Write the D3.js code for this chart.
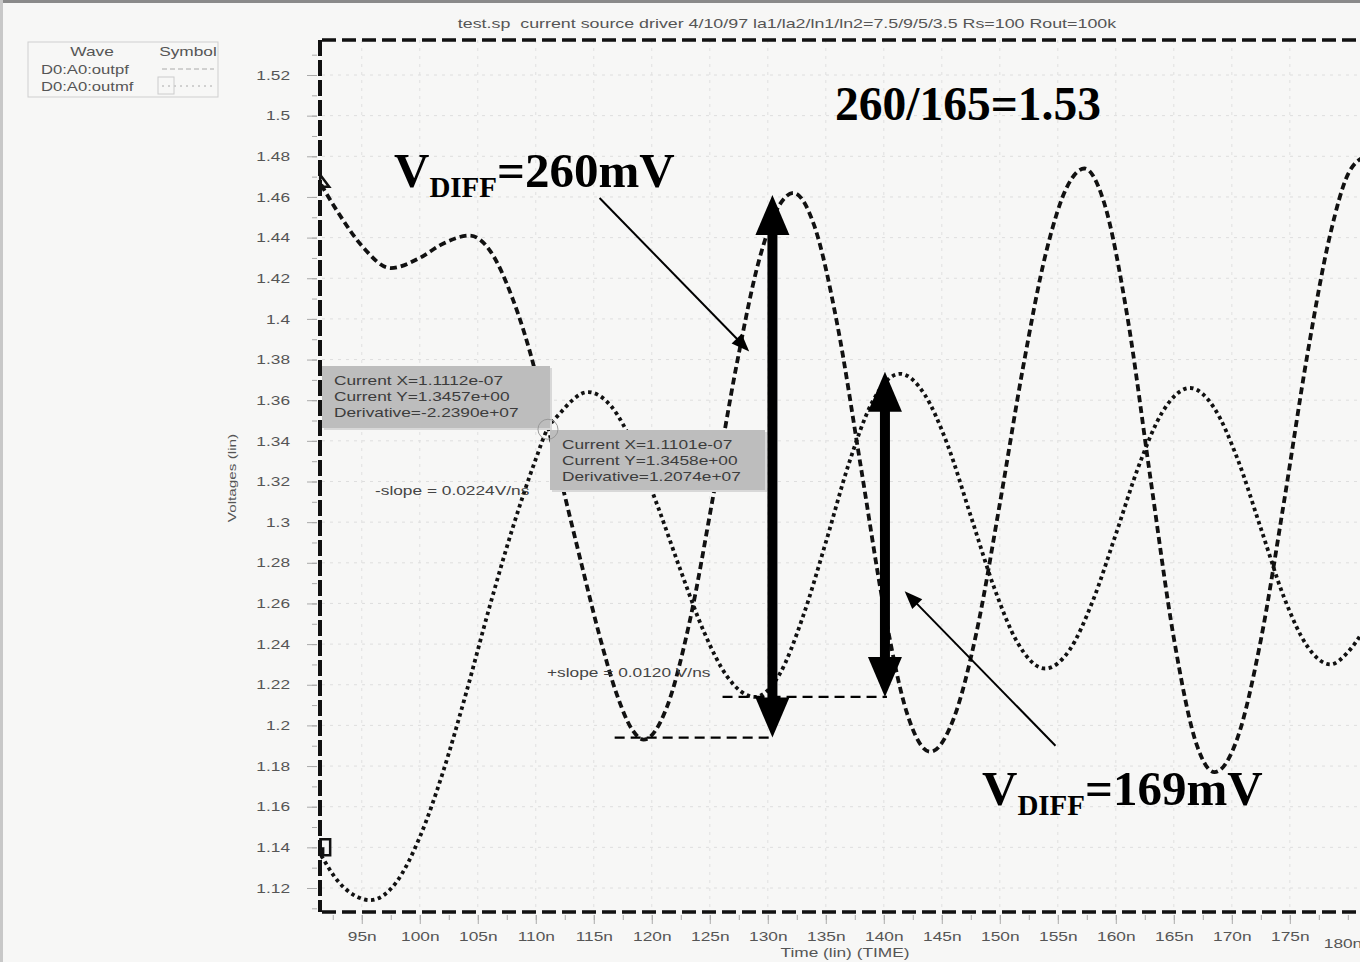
<!DOCTYPE html>
<meta charset="utf-8">
<script src="https://d3js.org/d3.v7.min.js"></script>
<style>
  body { margin: 0; background: #f4f4f3; }
  .sans { font-family: "Liberation Sans", Arial, sans-serif; }
  .serif { font-family: "Liberation Serif", "Times New Roman", serif; font-weight: bold; }
</style>
<div id="chart"></div>
<script>
// ---- data (time in ns, volts) ----
const outpfT = [91.5, 93, 95, 97.5, 100, 102, 104.3, 106, 108, 110, 111.1, 112.5, 114, 115.5, 117, 118.3, 119.3,
  121.3, 123.3, 125.3, 127.3, 129.3, 131, 132.2, 134, 136, 138, 140, 142, 144, 146, 148, 150, 152, 154, 155.8,
  157.3, 159, 161, 163, 165, 167, 168.5, 170.5, 172.5, 174.5, 176.5, 178.5, 180, 181.5];
const outpfV = [1.466, 1.452, 1.436, 1.425, 1.430, 1.437, 1.441, 1.434, 1.410, 1.373, 1.3457, 1.313, 1.278, 1.244,
  1.215, 1.198, 1.193, 1.209, 1.252, 1.313, 1.377, 1.430, 1.456, 1.462, 1.446, 1.397, 1.328, 1.258, 1.206, 1.187,
  1.203, 1.246, 1.309, 1.376, 1.433, 1.465, 1.474, 1.457, 1.401, 1.321, 1.243, 1.190, 1.177, 1.194, 1.242, 1.310,
  1.382, 1.442, 1.471, 1.480];

const outmfT = [91.5, 93, 94.5, 95.7, 98, 100, 102, 104, 106, 108, 110, 111, 112, 114.5, 116.5, 118.5, 120.5, 122.5,
  124.5, 126.5, 128.9, 131, 133, 135, 137, 139, 141.4, 143.5, 145.5, 147.5, 149.5, 151.5, 153.9, 156, 158, 160, 162,
  164, 166.4, 168.5, 170.5, 172.5, 174.5, 176.5, 178.5, 180, 181.5];
const outmfV = [1.136, 1.123, 1.116, 1.114, 1.123, 1.145, 1.177, 1.216, 1.258, 1.297, 1.331, 1.3458, 1.353, 1.364,
  1.357, 1.337, 1.308, 1.276, 1.246, 1.224, 1.214, 1.225, 1.253, 1.290, 1.329, 1.359, 1.373, 1.363, 1.338, 1.303,
  1.268, 1.241, 1.228, 1.237, 1.261, 1.294, 1.328, 1.354, 1.366, 1.356, 1.331, 1.297, 1.263, 1.239, 1.230, 1.236, 1.248];

const yTicks = [1.12, 1.14, 1.16, 1.18, 1.2, 1.22, 1.24, 1.26, 1.28, 1.3, 1.32, 1.34, 1.36, 1.38, 1.4, 1.42, 1.44, 1.46, 1.48, 1.5, 1.52];
const xTicks = [95, 100, 105, 110, 115, 120, 125, 130, 135, 140, 145, 150, 155, 160, 165, 170, 175];

const title = "test.sp  current source driver 4/10/97 la1/la2/ln1/ln2=7.5/9/5/3.5 Rs=100 Rout=100k";
const waves = ["D0:A0:outpf", "D0:A0:outmf"];

// cursor readouts
const cursorA = ["Current X=1.1112e-07", "Current Y=1.3457e+00", "Derivative=-2.2390e+07"];
const cursorB = ["Current X=1.1101e-07", "Current Y=1.3458e+00", "Derivative=1.2074e+07"];

// swing markers: time, low, high (V)
const swings = [
  { t: 130.4, lo: 1.194, hi: 1.461, ref0: 116.8 },
  { t: 140.1, lo: 1.214, hi: 1.374, ref0: 126.1 }
];

const W = 1360, H = 962;
const svg = d3.select("#chart").append("svg").attr("width", W).attr("height", H).attr("class", "sans");

svg.append("rect").attr("width", W).attr("height", H).attr("fill", "#f7f7f6");
svg.append("rect").attr("width", W).attr("height", 3).attr("fill", "#8a8a8a");
svg.append("rect").attr("width", 3).attr("height", H).attr("fill", "#c8c8c8");

const x = d3.scaleLinear().domain([91.4, 181.05]).range([320, 1360]);
const y = d3.scaleLinear().domain([1.12, 1.52]).range([888, 75]);

const plotTop = 40, plotBottom = 912, plotLeft = 322;

// the scan is stretched sideways, so the small scope text is widened too
const STRETCH = 1.33;
function widen(sel) {
  sel.each(function () {
    const n = this.getComputedTextLength();
    d3.select(this).attr("textLength", n * STRETCH).attr("lengthAdjust", "spacingAndGlyphs");
  });
  return sel;
}
function label(px, py, str, size, anchor) {
  const t = svg.append("text").attr("x", px).attr("y", py).attr("font-size", size)
    .attr("fill", "#555").attr("text-anchor", anchor || "start").text(str);
  return widen(t);
}

// grid
svg.append("g").selectAll("line").data(yTicks).join("line")
  .attr("x1", plotLeft).attr("x2", W)
  .attr("y1", d => y(d)).attr("y2", d => y(d))
  .attr("stroke", "#dedede").attr("stroke-width", 1).attr("stroke-dasharray", "3,5");
svg.append("g").selectAll("line").data(xTicks).join("line")
  .attr("x1", d => x(d)).attr("x2", d => x(d))
  .attr("y1", plotTop).attr("y2", plotBottom)
  .attr("stroke", "#e0e0e0").attr("stroke-width", 1).attr("stroke-dasharray", "3,5");

// title
label(787, 28, title, 13.5, "middle").style("white-space", "pre");

// y axis
svg.append("g").attr("transform", "translate(317,0)")
  .call(d3.axisLeft(y).tickValues(yTicks).tickSize(10).tickPadding(17).tickFormat(d3.format("")));
svg.append("g").attr("transform", "translate(317,0)")
  .call(d3.axisLeft(y).tickValues(d3.range(1.11, 1.535, 0.01)).tickSize(5).tickFormat(""));
// x axis
svg.append("g").attr("transform", `translate(0,${plotBottom + 3})`)
  .call(d3.axisBottom(x).tickValues(xTicks).tickSize(9).tickPadding(8).tickFormat(d => d + "n"));
svg.append("g").attr("transform", `translate(0,${plotBottom + 3})`)
  .call(d3.axisBottom(x).tickValues(d3.range(92.5, 181, 2.5)).tickSize(5).tickFormat(""));
svg.selectAll(".domain").remove();
svg.selectAll(".tick line").attr("stroke", "#aaa");
widen(svg.selectAll(".tick text").attr("fill", "#555").attr("font-size", 13)
  .style("font-family", "Liberation Sans, Arial, sans-serif"));
label(1343, 948, "180n", 13, "middle");

label(845, 957, "Time (lin) (TIME)", 13, "middle");
label(0, 0, "Voltages (lin)", 11.5, "middle").attr("transform", "translate(236,478) rotate(-90)");

// frame
const frame = svg.append("g").attr("fill", "none").attr("stroke", "#111").attr("stroke-width", 3.5)
  .attr("stroke-dasharray", "14,6");
frame.append("line").attr("x1", plotLeft).attr("x2", W).attr("y1", plotTop).attr("y2", plotTop);
frame.append("line").attr("x1", plotLeft).attr("x2", W).attr("y1", plotBottom).attr("y2", plotBottom);
frame.append("line").attr("x1", plotLeft - 2).attr("x2", plotLeft - 2).attr("y1", plotTop).attr("y2", plotBottom)
  .attr("stroke-width", 4).attr("stroke-dasharray", "16,4");

// legend
svg.append("rect").attr("x", 28).attr("y", 42).attr("width", 190).attr("height", 55)
  .attr("fill", "none").attr("stroke", "#cfcfcf");
label(92, 56, "Wave", 13, "middle");
label(188, 56, "Symbol", 13, "middle");
waves.forEach((w, i) => {
  label(41, 74 + i * 17, w, 12.5);
  svg.append("line").attr("x1", 162).attr("x2", 214).attr("y1", 69 + i * 17).attr("y2", 69 + i * 17)
    .attr("stroke", "#aaa").attr("stroke-width", 1).attr("stroke-dasharray", i === 0 ? "5,3" : "2,4");
});
svg.append("rect").attr("x", 158).attr("y", 77).attr("width", 16).attr("height", 17)
  .attr("fill", "none").attr("stroke", "#ccc");

// curves
const line = d3.line().x(d => x(d[0])).y(d => y(d[1])).curve(d3.curveMonotoneX);
const outpf = outpfT.map((t, i) => [t, outpfV[i]]);
const outmf = outmfT.map((t, i) => [t, outmfV[i]]);

svg.append("path").datum(outmf).attr("d", line).attr("fill", "none")
  .attr("stroke", "#111").attr("stroke-width", 3.8).attr("stroke-dasharray", "3.5,3.5");
svg.append("path").datum(outpf).attr("d", line).attr("fill", "none")
  .attr("stroke", "#111").attr("stroke-width", 3.8).attr("stroke-dasharray", "7,4");

// start markers
const p0 = outpf[0], m0 = outmf[0];
svg.append("path")
  .attr("d", `M${x(p0[0]) - 1},${y(p0[1]) - 10} L${x(p0[0]) + 8},${y(p0[1]) + 2} L${x(p0[0]) - 1},${y(p0[1]) + 2}Z`)
  .attr("fill", "none").attr("stroke", "#111").attr("stroke-width", 2.5);
svg.append("path")
  .attr("d", `M${x(m0[0]) - 2},${y(1.14) - 8} H${x(m0[0]) + 9} V${y(1.14) + 8} H${x(m0[0]) + 2} V${y(1.14)}`)
  .attr("fill", "none").attr("stroke", "#111").attr("stroke-width", 2.5);

// cursor boxes
function readout(x0, y0, w, h, lines) {
  svg.append("rect").attr("x", x0 + 2).attr("y", y0 + 2).attr("width", w).attr("height", h).attr("fill", "#d8d8d8");
  svg.append("rect").attr("x", x0).attr("y", y0).attr("width", w).attr("height", h).attr("fill", "#bdbdbd");
  lines.forEach((s, i) => label(x0 + 12, y0 + 19 + i * 16, s, 13).attr("fill", "#3c3c3c"));
}
readout(322, 366, 228, 62, cursorA);
readout(550, 430, 215, 60, cursorB);
svg.append("circle").attr("cx", x(111.05)).attr("cy", y(1.3457)).attr("r", 10)
  .attr("fill", "none").attr("stroke", "#999").attr("stroke-width", 1);

label(375, 495, "-slope = 0.0224V/ns", 13).attr("fill", "#444");
label(547, 677, "+slope = 0.0120 V/ns", 13).attr("fill", "#444");

// swing reference lines and double arrows
swings.forEach(s => {
  svg.append("line").attr("x1", x(s.ref0)).attr("x2", x(s.t) + 2).attr("y1", y(s.lo)).attr("y2", y(s.lo))
    .attr("stroke", "#000").attr("stroke-width", 2.2).attr("stroke-dasharray", "10,6");
  const cx = x(s.t), top = y(s.hi), bot = y(s.lo), hl = 40, hw = 17;
  svg.append("line").attr("x1", cx).attr("x2", cx).attr("y1", top + hl - 2).attr("y2", bot - hl + 2)
    .attr("stroke", "#000").attr("stroke-width", 10);
  svg.append("path").attr("d", `M${cx},${top} L${cx + hw},${top + hl} L${cx - hw},${top + hl}Z`).attr("fill", "#000");
  svg.append("path").attr("d", `M${cx},${bot} L${cx + hw},${bot - hl} L${cx - hw},${bot - hl}Z`).attr("fill", "#000");
});

// pointer arrows
function pointer(t0, v0, t1, v1) {
  const xa = x(t0), ya = y(v0), xb = x(t1), yb = y(v1);
  const a = Math.atan2(yb - ya, xb - xa), L = 18, w = 7;
  svg.append("line").attr("x1", xa).attr("y1", ya).attr("x2", xb - Math.cos(a) * 10).attr("y2", yb - Math.sin(a) * 10)
    .attr("stroke", "#000").attr("stroke-width", 2);
  const bx = xb - Math.cos(a) * L, by = yb - Math.sin(a) * L;
  svg.append("path").attr("d", `M${xb},${yb} L${bx - Math.sin(a) * w},${by + Math.cos(a) * w} L${bx + Math.sin(a) * w},${by - Math.cos(a) * w}Z`)
    .attr("fill", "#000");
}
pointer(115.5, 1.4595, 128.4, 1.384);
pointer(154.8, 1.190, 141.8, 1.266);

// big annotations
function vdiff(x0, yb, val) {
  const t = svg.append("text").attr("class", "serif").attr("x", x0).attr("y", yb)
    .attr("font-size", 49).attr("fill", "#000");
  t.append("tspan").text("V");
  t.append("tspan").attr("font-size", 29).attr("dy", 10).text("DIFF");
  t.append("tspan").attr("dy", -10).text("=" + val);
}
vdiff(394, 187, "260mV");
vdiff(982, 805, "169mV");
svg.append("text").attr("class", "serif").attr("x", 835).attr("y", 120)
  .attr("font-size", 47.5).attr("fill", "#000").text("260/165=1.53");
</script>
